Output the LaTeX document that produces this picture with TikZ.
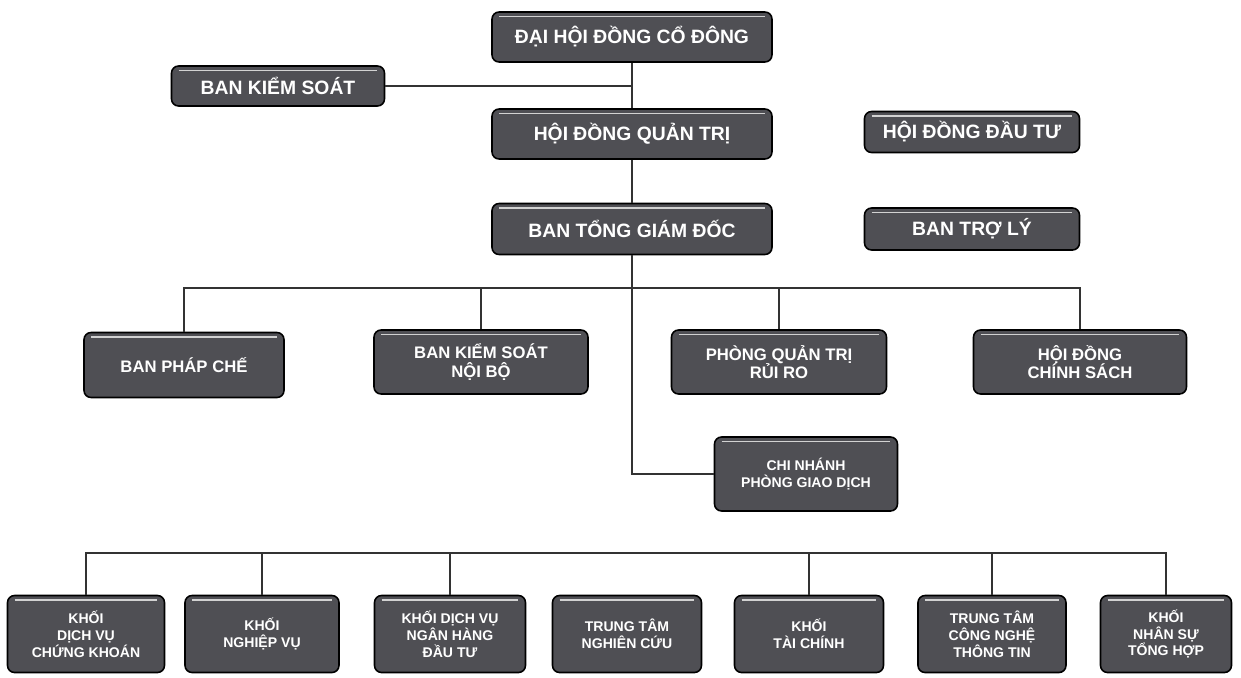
\documentclass[tikz,border=0pt]{standalone}
\usepackage{fontspec}
\setmainfont{Liberation Sans}
\definecolor{unitgray}{HTML}{4F4F54}
\definecolor{linkgray}{HTML}{333333}
\begin{document}
\begin{tikzpicture}[x=0.02cm,y=-0.02cm,
    unit/.style={draw=black,line width=0.9pt,fill=unitgray,rounded corners=4pt,
      text=white,align=center,inner sep=1pt,
      path picture={\draw[gray!35,line width=0.8pt]
        ([xshift=4pt,yshift=-2.5pt]path picture bounding box.north west) --
        ([xshift=-4pt,yshift=-2.5pt]path picture bounding box.north east);}},
    topunit/.style={unit,font=\bfseries\fontsize{11}{13}\selectfont},
    midunit/.style={unit,font=\bfseries\fontsize{9.5}{10.5}\selectfont},
    lowunit/.style={unit,font=\bfseries\fontsize{8}{9.6}\selectfont},
    link/.style={draw=linkgray,line width=0.9pt}]
  \useasboundingbox (0,0) rectangle (1241,677);

  % upper levels
  \node[topunit,minimum width=5.6cm,minimum height=1cm] (dhdcd) at (632,37) {ĐẠI HỘI ĐỒNG CỔ ĐÔNG};
  \node[topunit,minimum width=4.26cm,minimum height=0.8cm] (bks) at (278,86) {BAN KIỂM SOÁT};
  \node[topunit,minimum width=5.6cm,minimum height=1cm] (hdqt) at (632,134) {HỘI ĐỒNG QUẢN TRỊ};
  \node[topunit,minimum width=4.3cm,minimum height=0.82cm] (hddt) at (972,132) {HỘI ĐỒNG ĐẦU TƯ};
  \node[topunit,minimum width=5.6cm,minimum height=1.02cm] (btgd) at (632,229) {BAN TỔNG GIÁM ĐỐC};
  \node[topunit,minimum width=4.3cm,minimum height=0.84cm] (btl) at (972,229) {BAN TRỢ LÝ};

  % middle level
  \node[midunit,minimum width=4.0cm,minimum height=1.3cm] (bpc) at (184,365) {BAN PHÁP CHẾ};
  \node[midunit,minimum width=4.28cm,minimum height=1.28cm] (bksnb) at (481,362) {BAN KIỂM SOÁT\\NỘI BỘ};
  \node[midunit,minimum width=4.3cm,minimum height=1.28cm] (pqtrr) at (779,362) {PHÒNG QUẢN TRỊ\\RỦI RO};
  \node[midunit,minimum width=4.26cm,minimum height=1.28cm] (hdcs) at (1080,362) {HỘI ĐỒNG\\CHÍNH SÁCH};
  \node[lowunit,minimum width=3.66cm,minimum height=1.48cm] (cn) at (806,474) {CHI NHÁNH\\PHÒNG GIAO DỊCH};

  % lower level
  \node[lowunit,minimum width=3.14cm,minimum height=1.54cm] (kdvck) at (86,634) {KHỐI\\DỊCH VỤ\\CHỨNG KHOÁN};
  \node[lowunit,minimum width=3.08cm,minimum height=1.54cm] (knv) at (262,634) {KHỐI\\NGHIỆP VỤ};
  \node[lowunit,minimum width=3.02cm,minimum height=1.54cm] (knhdt) at (450,634) {KHỐI DỊCH VỤ\\NGÂN HÀNG\\ĐẦU TƯ};
  \node[lowunit,minimum width=2.98cm,minimum height=1.54cm] (ttnc) at (627,634) {TRUNG TÂM\\NGHIÊN CỨU};
  \node[lowunit,minimum width=2.98cm,minimum height=1.54cm] (ktc) at (809,634) {KHỐI\\TÀI CHÍNH};
  \node[lowunit,minimum width=2.96cm,minimum height=1.54cm] (ttcntt) at (992,634) {TRUNG TÂM\\CÔNG NGHỆ\\THÔNG TIN};
  \node[lowunit,minimum width=2.62cm,minimum height=1.54cm] (knsth) at (1166,634) {KHỐI\\NHÂN SỰ\\TỔNG HỢP};

  \coordinate (midbus) at (0,288);
  \coordinate (lowbus) at (0,553);

  % connectors
  \begin{scope}[link]
    \draw (dhdcd.south) -- (hdqt.north);
    \draw (bks.east) -- (bks.east -| dhdcd.south);
    \draw (hdqt.south) -- (btgd.north);
    \draw (btgd.south) |- (cn.west);
    \draw (bpc.north) -- (bpc.north |- midbus) -- (hdcs.north |- midbus) -- (hdcs.north);
    \draw (bksnb.north) -- (bksnb.north |- midbus);
    \draw (pqtrr.north) -- (pqtrr.north |- midbus);
    \draw (kdvck.north) -- (kdvck.north |- lowbus) -- (knsth.north |- lowbus) -- (knsth.north);
    \draw (knv.north) -- (knv.north |- lowbus);
    \draw (knhdt.north) -- (knhdt.north |- lowbus);
    \draw (ktc.north) -- (ktc.north |- lowbus);
    \draw (ttcntt.north) -- (ttcntt.north |- lowbus);
  \end{scope}
\end{tikzpicture}
\end{document}
